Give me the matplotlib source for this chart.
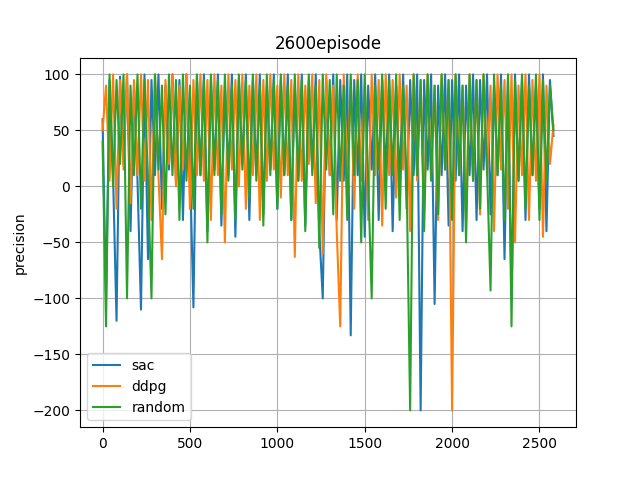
import matplotlib
matplotlib.use('Agg')
import matplotlib.pyplot as plt
import numpy as np

# values, one every 20 episodes
sac = [60, -100, 95, 10, -120, 98, 20, 100, -40, 90,
       5, -110, 100, -65, 95, 10, 100, -20, 90, 15,
       100, 5, 95, -30, 100, 20, -108, 98, 10, 100,
       -40, 95, 15, 100, -35, 90, 10, 100, -45, 95,
       20, 100, -30, 95, 10, 100, -25, 90, 15, 100,
       -20, 95, 10, 100, -30, 90, 5, 100, -35, 95,
       15, 100, -40, -100, 95, 10, 100, -30, 95, 5,
       100, -133, 95, 10, 100, -45, 90, 15, 100, -30,
       95, 10, 100, -40, 90, 5, 100, -20, 95, 10,
       100, -200, 95, 15, 100, -105, 90, 10, 100, -35,
       95, 5, 100, -40, 90, 10, 100, -30, 95, 15,
       100, -25, 90, 10, 100, -65, 95, -100, 100, 5,
       95, -30, 100, 10, 90, -20, 100, -40, 95, 45]

ddpg = [50, 90, 5, 100, -20, 95, 15, 100, -15, 95,
        10, 100, 5, 95, -30, 100, 10, -65, 95, 20,
        100, 0, 90, 15, 100, -20, 95, 10, 100, 5,
        95, -30, 100, 10, 90, -50, 100, 15, 95, 0,
        100, -20, 90, 10, 100, -30, 95, 5, 100, 15,
        90, -10, 100, 10, 95, -63, 100, 5, 90, 20,
        100, -15, 95, -60, 100, 10, 90, -40, -125, 100,
        10, 95, -20, 100, 5, 90, -30, 100, 10, 95,
        -35, 100, 10, 95, -10, 100, 15, 90, -40, 100,
        5, 95, -20, 100, 10, 90, -30, 100, 15, 95,
        -200, 100, 10, 90, -30, 100, 5, 95, -25, 100,
        10, 90, -40, 100, 15, 95, -20, 100, -50, 90,
        10, 100, -30, 95, 5, 100, -45, 90, 20, 55]

random_ = [40, -125, 100, 0, 95, 20, 100, -100, 90, 10,
           100, -20, 95, 5, -100, 100, 15, 90, -25, 100,
           10, 95, -30, 100, 5, 90, -20, 100, 10, 95,
           -50, 100, 10, 95, -25, 100, 5, 90, -30, 100,
           15, 95, -10, 100, 5, 90, -35, 100, 10, 95,
           -20, 100, 10, 90, -30, 100, 5, 95, -40, 100,
           10, 90, -55, 100, 15, 95, -25, 100, 5, 90,
           -30, 100, 10, 95, -50, 100, 5, -100, 90, 15,
           100, -20, 95, 10, 100, -30, 90, 5, -200, 100,
           10, 95, -40, 100, 5, 90, -25, 100, 15, 95,
           -30, 100, 10, 90, -50, 100, 5, 95, -20, 100,
           15, -93, 100, 10, 90, -30, 100, -125, 95, 5,
           100, -20, 90, 10, 100, -30, 95, 5, 90, 50]

episodes = np.arange(len(sac)) * 20

fig, ax = plt.subplots(figsize=(6.4, 4.8), dpi=100)
ax.plot(episodes, sac, label='sac')
ax.plot(episodes, ddpg, label='ddpg')
ax.plot(episodes, random_, label='random')
ax.set_title('2600episode')
ax.set_ylabel('precision')
ax.grid(True)
ax.legend(loc='lower left')
fig.savefig('out.png')
